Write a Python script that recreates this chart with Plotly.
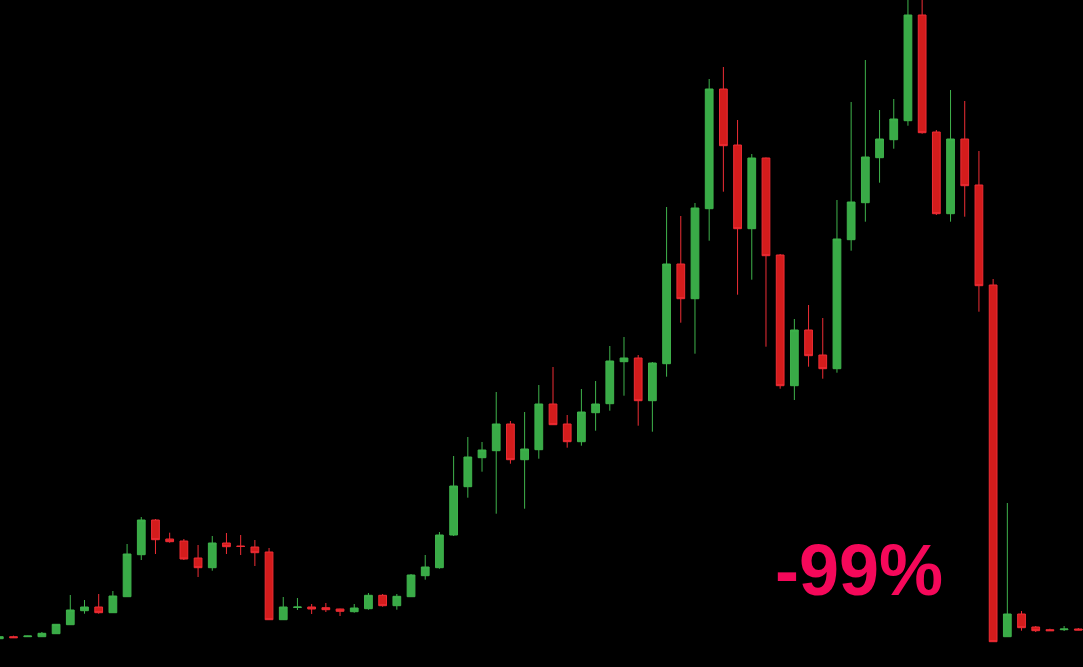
import plotly.graph_objects as go

# Candle index (time) and OHLC values (arbitrary price units)
idx = list(range(77))
open_ = [28.3, 30.3, 30.3, 30.3, 33.3, 42.3, 56.3, 60, 54.3, 70.3,
         112.3, 147, 128, 126, 109, 99.3, 124, 121, 120, 115,
         47.3, 59.5, 60, 59.3, 58, 55.3, 58.3, 71.7, 61.3, 70.3,
         91.3, 99.3, 132, 180.3, 209.3, 216.3, 243, 207.3, 217.3, 263,
         243, 225.3, 254.3, 263.3, 305.3, 309, 266.3, 303.3, 403, 368.3,
         458.3, 578, 522, 438.3, 509, 412, 281.3, 337, 312, 298.3,
         427.3, 464.3, 509.3, 527.3, 546.3, 652, 535, 453.3, 528, 482,
         382, 30.3, 53, 40, 37.3, 37.3, 38]
high = [30.5, 31.3, 31.2, 35, 43, 72, 67, 73, 76, 123,
        150, 148, 134.3, 128, 122, 131, 134, 132, 127, 119,
        70, 69, 63, 64, 58.3, 63, 74, 73, 73, 93,
        112, 135, 211, 230, 225, 275, 246, 255, 282, 300,
        252, 278, 286, 321, 330, 312, 305, 460, 451, 464,
        588, 600, 547, 513, 509.5, 413, 348, 362, 349, 467,
        565, 607, 557, 568, 672, 675, 537, 577, 566, 516,
        388, 164, 56, 41, 38.3, 41, 39]
low = [28, 29, 30.2, 30, 33, 42, 53.3, 53.3, 54, 70,
       107, 113, 124.3, 107, 90, 96.3, 113, 112, 101, 47,
       47, 57, 53, 55, 51, 54.3, 57.3, 60.3, 57.3, 70,
       87.3, 98.3, 131, 169.3, 195.3, 153.3, 203.3, 158.3, 208.3, 242,
       219.3, 221.3, 236.3, 256.3, 271.3, 241.3, 235.3, 290.3, 344.3, 313.3,
       426.3, 475.3, 372.3, 387.3, 320.3, 278.3, 267, 300.3, 288.3, 294.3,
       416.3, 445.3, 484.3, 518.3, 541.3, 533.3, 452, 445.3, 450.3, 355.3,
       25, 30, 36.3, 35, 36, 36, 36.8]
close = [30.3, 29.3, 31, 33.7, 42.7, 57, 60, 54.3, 71, 113,
         147, 127.3, 125.3, 108, 99.3, 124, 120.3, 120.5, 114.3, 47.3,
         60, 60, 58, 57.3, 55.7, 59, 71.7, 61.3, 70.7, 92,
         100, 132, 181, 210, 217, 243, 207.3, 218, 263, 242.3,
         225.3, 255, 263, 306, 309, 266.3, 304, 403, 368.3, 459,
         578, 521.3, 438.3, 509, 411.3, 281.3, 337, 311.3, 298.3, 428,
         465, 510, 528, 548, 652, 534.3, 453.3, 528, 481.3, 381.3,
         25.3, 53, 39.3, 36.3, 36.3, 38, 37]

label = "-99%"

fig = go.Figure(go.Candlestick(
    x=idx, open=open_, high=high, low=low, close=close,
    increasing=dict(fillcolor="#39ab47", line=dict(color="#3fb34c", width=1)),
    decreasing=dict(fillcolor="#d41c1c", line=dict(color="#ef2d35", width=1)),
    whiskerwidth=0, hoverinfo="skip",
))

fig.add_annotation(
    text="<b>" + label + "</b>", x=0.793, y=0.146, xref="paper", yref="paper",
    showarrow=False, xanchor="center", yanchor="middle",
    font=dict(family="Liberation Sans, Arial, sans-serif", size=72, color="#f5085a"),
)

fig.update_layout(
    width=1083, height=667,
    margin=dict(l=0, r=0, t=0, b=0),
    paper_bgcolor="#000000", plot_bgcolor="#000000",
    showlegend=False, boxgap=0.22,
    xaxis=dict(range=[0.049, 76.33], visible=False, showgrid=False,
               rangeslider=dict(visible=False), fixedrange=True),
    yaxis=dict(range=[0, 667], visible=False, showgrid=False, fixedrange=True),
)

fig.write_html(
    "out.html", config={"displayModeBar": False},
    post_script="document.body.style.margin='0';document.body.style.background='#000';",
)
